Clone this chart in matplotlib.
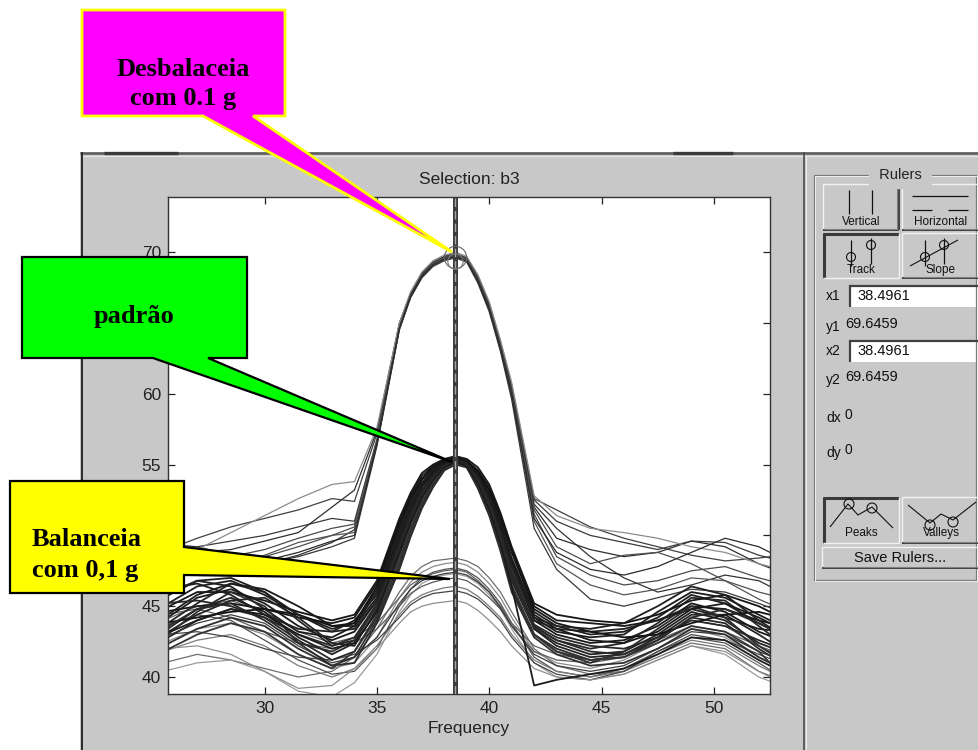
import matplotlib
matplotlib.use("Agg")
import matplotlib.pyplot as plt
from matplotlib.patches import Polygon, Rectangle, Circle

plt.rcParams["font.family"] = ["Liberation Sans", "DejaVu Sans"]

# spectra sampled on a common frequency grid (denser around the peak)
freq = [25.5, 27, 28.5, 30, 31.5, 33, 34, 35, 36, 36.5, 37, 37.5, 38, 38.5,
        39, 39.5, 40, 40.5, 41, 42, 43, 44.5, 46, 47.5, 49, 50.5, 52, 53]

# unbalanced rotor (tall peak near 70)
desbal = [
    [49.0, 49.2, 49.6, 50.0, 50.6, 51.2, 51.0, 56.8, 64.8, 67.0, 68.4, 69.2, 69.6, 69.8, 69.5, 68.1, 66.1, 63.4, 60.2, 52.5, 51.0, 50.0, 49.5, 49.0, 49.6, 49.5, 48.6, 48.2],
    [48.6, 48.8, 49.0, 49.6, 50.2, 52.0, 53.2, 57.4, 65.0, 67.1, 68.5, 69.3, 69.7, 69.9, 69.6, 68.3, 66.3, 63.6, 60.5, 52.0, 49.8, 49.0, 48.5, 48.8, 49.6, 49.2, 48.0, 47.4],
    [47.8, 48.0, 48.5, 49.0, 49.8, 50.5, 50.8, 56.6, 64.6, 66.9, 68.3, 69.1, 69.5, 69.7, 69.4, 68.0, 66.0, 63.2, 60.0, 51.5, 48.5, 47.2, 46.5, 46.8, 47.5, 47.8, 47.0, 46.6],
    [49.4, 49.2, 48.6, 48.0, 48.6, 49.5, 50.4, 56.5, 64.7, 67.0, 68.4, 69.2, 69.6, 69.8, 69.5, 68.2, 66.2, 63.5, 60.3, 52.2, 50.5, 48.5, 47.0, 46.0, 46.5, 47.2, 46.8, 46.0],
    [48.2, 47.6, 47.8, 48.6, 49.5, 50.0, 50.2, 56.4, 64.6, 66.8, 68.2, 69.1, 69.5, 69.7, 69.4, 67.9, 65.9, 63.1, 59.8, 51.0, 48.0, 46.5, 45.8, 46.2, 47.0, 46.8, 45.5, 44.8],
    [48.9, 49.8, 50.6, 51.2, 51.8, 52.6, 52.4, 57.2, 64.9, 67.1, 68.5, 69.3, 69.7, 69.9, 69.6, 68.3, 66.4, 63.7, 60.6, 52.6, 51.8, 50.6, 49.8, 49.2, 48.6, 48.2, 48.4, 48.6],
    [48.4, 49.0, 50.2, 51.4, 52.6, 53.6, 53.8, 57.6, 65.0, 67.2, 68.6, 69.4, 69.8, 70.0, 69.7, 68.4, 66.5, 63.8, 60.8, 52.8, 51.4, 50.5, 50.2, 49.8, 49.2, 48.8, 48.0, 47.6],
    [47.5, 47.9, 48.2, 48.0, 48.5, 49.2, 49.8, 56.3, 64.5, 66.8, 68.2, 69.0, 69.4, 69.6, 69.3, 67.8, 65.8, 63.0, 59.6, 50.5, 47.6, 45.5, 45.0, 45.6, 46.2, 46.0, 45.2, 44.6],
    [49.2, 48.6, 48.2, 48.5, 49.2, 50.0, 50.6, 56.7, 64.7, 67.0, 68.3, 69.2, 69.6, 69.8, 69.5, 68.1, 66.0, 63.3, 60.1, 51.8, 49.2, 48.0, 48.6, 48.8, 48.0, 46.8, 46.0, 45.6],
    [47.2, 47.5, 47.8, 48.2, 48.8, 49.6, 50.0, 56.5, 64.6, 66.9, 68.3, 69.1, 69.5, 69.7, 69.4, 68.0, 66.0, 63.2, 60.0, 51.2, 48.8, 47.6, 47.2, 47.8, 48.8, 49.8, 49.2, 48.4],
]

# reference condition (peak near 55)
padrao = [
    [44.0, 45.6, 46.2, 45.2, 43.6, 42.6, 43.2, 45.4, 49.8, 51.8, 53.4, 54.4, 55.0, 55.3, 55.1, 54.1, 52.6, 50.4, 47.8, 44.0, 43.0, 42.4, 42.6, 43.6, 45.2, 44.6, 43.2, 42.6],
    [43.2, 44.8, 45.6, 44.6, 42.8, 41.6, 42.4, 44.6, 48.6, 50.8, 52.6, 53.9, 54.8, 55.2, 55.0, 53.7, 52.0, 49.6, 46.8, 43.4, 42.4, 41.6, 41.8, 43.0, 44.6, 44.0, 42.4, 41.8],
    [45.0, 46.4, 46.8, 45.8, 44.4, 43.4, 43.8, 46.2, 50.6, 52.4, 53.9, 54.7, 55.2, 55.4, 55.2, 54.4, 53.0, 50.9, 48.4, 44.6, 43.6, 43.0, 43.2, 44.2, 45.8, 45.2, 43.8, 43.0],
    [42.6, 44.0, 44.8, 44.2, 42.6, 41.2, 41.8, 44.2, 48.0, 50.3, 52.2, 53.6, 54.7, 55.1, 54.9, 53.5, 51.6, 49.1, 46.2, 43.0, 42.0, 41.2, 41.4, 42.6, 44.2, 43.8, 42.0, 41.0],
    [44.6, 45.0, 45.2, 44.8, 44.2, 43.8, 44.2, 46.6, 51.0, 52.8, 54.2, 54.9, 55.3, 55.5, 55.3, 54.6, 53.4, 51.4, 49.0, 45.0, 44.0, 43.8, 43.6, 44.0, 45.0, 44.8, 44.0, 43.6],
    [43.6, 45.2, 46.6, 46.0, 44.0, 42.2, 42.6, 45.0, 49.2, 51.3, 53.0, 54.1, 54.9, 55.3, 55.0, 53.9, 52.3, 50.0, 47.4, 43.6, 42.6, 42.0, 42.4, 43.8, 45.6, 45.4, 43.6, 42.4],
    [45.6, 46.8, 46.4, 44.8, 43.2, 42.8, 43.6, 46.0, 50.4, 52.2, 53.7, 54.6, 55.1, 55.4, 55.2, 54.3, 52.8, 50.7, 48.2, 44.2, 43.2, 42.8, 43.0, 44.6, 46.0, 45.6, 44.4, 43.6],
    [42.2, 43.4, 44.2, 43.6, 42.0, 40.8, 41.4, 44.0, 47.7, 50.0, 52.0, 53.5, 54.6, 55.0, 54.8, 53.3, 51.4, 48.9, 46.0, 42.8, 41.6, 40.8, 41.0, 42.0, 43.4, 43.0, 41.4, 40.6],
    [44.8, 46.0, 46.0, 45.4, 44.6, 44.0, 44.4, 46.8, 51.2, 53.0, 54.4, 55.0, 55.4, 55.6, 55.4, 54.8, 53.6, 51.6, 49.2, 45.2, 44.4, 44.0, 43.8, 44.4, 45.4, 45.8, 45.0, 44.2],
    [43.0, 44.4, 45.4, 45.6, 44.2, 42.4, 42.2, 44.8, 49.0, 51.1, 52.8, 54.0, 54.9, 55.2, 55.0, 53.8, 52.2, 49.9, 47.2, 43.4, 42.2, 41.4, 41.6, 42.8, 44.4, 44.4, 43.0, 42.0],
    [46.2, 46.6, 45.8, 44.4, 43.4, 43.2, 44.0, 45.8, 50.2, 52.1, 53.6, 54.5, 55.1, 55.4, 55.1, 54.2, 52.7, 50.5, 48.0, 44.0, 43.4, 43.2, 43.4, 44.0, 44.8, 44.2, 43.4, 43.2],
    [42.8, 44.6, 46.0, 45.0, 42.4, 40.8, 41.0, 43.8, 47.6, 49.9, 51.9, 53.4, 54.6, 55.1, 54.9, 53.4, 51.5, 49.1, 46.4, 43.0, 41.8, 41.0, 41.8, 43.4, 45.0, 44.2, 42.2, 41.2],
    [44.2, 45.8, 46.6, 46.2, 45.0, 43.6, 43.6, 45.6, 50.0, 51.9, 53.5, 54.5, 55.1, 55.4, 55.1, 54.3, 52.9, 50.8, 48.3, 44.4, 43.4, 42.6, 42.4, 43.2, 44.8, 45.2, 44.2, 43.4],
    [45.2, 45.4, 45.0, 44.2, 43.0, 42.2, 42.8, 45.2, 49.4, 51.4, 53.1, 54.2, 55.0, 55.3, 55.0, 54.0, 52.4, 50.1, 47.5, 43.7, 42.8, 42.2, 42.0, 42.8, 44.0, 43.6, 42.6, 42.0],
    [43.8, 44.2, 44.6, 44.8, 44.4, 43.6, 43.8, 46.4, 50.8, 52.6, 54.0, 54.8, 55.2, 55.4, 55.2, 54.5, 53.2, 51.2, 48.8, 44.8, 43.8, 43.2, 42.8, 43.0, 43.8, 44.4, 44.6, 44.2],
    [41.8, 43.0, 43.8, 43.2, 41.6, 40.6, 41.8, 44.4, 48.3, 50.5, 52.4, 53.7, 54.7, 55.1, 54.8, 53.5, 51.7, 49.3, 46.5, 43.0, 41.8, 41.2, 41.4, 42.4, 43.6, 43.2, 41.8, 40.2],
    [45.8, 46.8, 47.0, 46.0, 44.4, 43.2, 43.4, 45.4, 49.6, 51.6, 53.2, 54.3, 55.0, 55.4, 55.1, 54.1, 52.6, 50.4, 47.9, 44.2, 43.6, 43.4, 43.8, 45.0, 46.4, 45.8, 44.0, 43.0],
    [43.4, 44.8, 45.2, 44.0, 42.4, 41.8, 42.6, 45.0, 49.0, 51.1, 52.9, 54.0, 54.9, 55.2, 55.0, 53.8, 52.1, 49.8, 47.0, 43.5, 42.6, 41.8, 41.6, 42.6, 44.2, 44.8, 43.8, 43.0],
    [43.0, 44.0, 44.8, 44.4, 43.0, 42.0, 42.4, 44.6, 48.8, 50.9, 52.7, 53.9, 54.8, 55.2, 54.9, 53.6, 51.8, 49.4, 46.4, 39.4, 39.8, 40.2, 40.6, 41.6, 42.8, 42.6, 41.2, 40.4],
]

# balanced with 0.1 g (low peak)
balanc = [
    [41.0, 41.6, 41.2, 40.6, 40.0, 40.4, 41.4, 43.4, 46.0, 47.1, 47.8, 48.2, 48.3, 48.4, 48.2, 47.8, 47.0, 46.0, 44.6, 42.0, 40.8, 40.2, 40.4, 41.4, 42.4, 42.0, 40.4, 39.8],
    [42.4, 43.4, 43.8, 43.0, 41.6, 40.6, 41.0, 42.8, 45.6, 46.7, 47.4, 47.8, 48.0, 48.1, 47.9, 47.4, 46.6, 45.6, 44.2, 41.8, 41.0, 40.6, 41.2, 42.4, 43.4, 42.8, 41.4, 40.6],
    [43.6, 44.4, 44.0, 42.6, 41.2, 40.2, 40.4, 42.0, 45.0, 46.2, 47.0, 47.4, 47.6, 47.7, 47.5, 47.0, 46.2, 45.2, 43.8, 41.4, 40.4, 40.0, 40.6, 41.8, 42.8, 42.4, 41.0, 40.0],
    [40.4, 41.0, 41.2, 40.4, 39.0, 38.6, 39.6, 41.6, 44.6, 45.8, 46.6, 47.0, 47.2, 47.3, 47.1, 46.6, 45.8, 44.8, 43.4, 41.0, 40.0, 39.8, 40.2, 41.2, 42.2, 41.6, 40.0, 39.4],
    [44.4, 44.8, 44.2, 43.2, 42.4, 42.0, 42.4, 43.4, 45.0, 45.9, 46.4, 46.7, 46.9, 47.0, 46.8, 46.3, 45.6, 44.8, 43.6, 41.8, 41.2, 41.0, 41.4, 42.6, 43.6, 43.2, 42.2, 41.6],
    [41.8, 42.6, 43.0, 42.2, 40.8, 40.0, 40.6, 42.2, 44.4, 45.3, 45.8, 46.1, 46.3, 46.4, 46.2, 45.7, 45.0, 44.2, 43.0, 41.2, 40.4, 40.0, 40.4, 41.6, 42.6, 42.2, 40.8, 40.0],
    [43.0, 43.2, 42.8, 42.0, 41.4, 41.2, 41.6, 42.6, 44.2, 45.1, 45.6, 45.9, 46.0, 46.1, 45.9, 45.5, 44.8, 44.0, 42.8, 41.0, 40.2, 39.8, 40.4, 41.8, 43.0, 42.6, 41.6, 41.0],
    [42.0, 42.2, 41.6, 40.4, 39.2, 39.4, 40.6, 42.0, 43.8, 44.6, 45.0, 45.2, 45.3, 45.4, 45.2, 44.7, 44.0, 43.2, 42.2, 40.6, 40.0, 39.8, 40.2, 41.2, 42.2, 41.8, 40.4, 39.6],
    [44.0, 45.0, 45.4, 44.6, 43.2, 42.4, 42.8, 43.8, 45.6, 46.5, 47.0, 47.3, 47.5, 47.6, 47.4, 46.8, 46.0, 45.0, 43.8, 42.2, 41.6, 41.2, 41.6, 42.8, 44.0, 43.6, 42.2, 41.4],
    [42.8, 43.8, 44.4, 43.8, 42.2, 41.0, 41.4, 42.8, 45.2, 46.2, 46.8, 47.1, 47.3, 47.4, 47.2, 46.7, 46.0, 44.9, 43.6, 41.6, 40.8, 40.4, 40.8, 42.0, 43.2, 43.0, 41.8, 41.2],
]

desbal_colors = ["#3a3a3a", "#2e2e2e", "#4a4a4a", "#333333", "#555555",
                 "#404040", "#8c8c8c", "#383838", "#4f4f4f", "#2a2a2a"]
padrao_colors = ["#1a1a1a", "#222222", "#1e1e1e", "#2a2a2a", "#181818",
                 "#262626", "#1c1c1c", "#303030", "#161616", "#242424",
                 "#1f1f1f", "#2c2c2c", "#1a1a1a", "#282828", "#141414",
                 "#343434", "#202020", "#2a2a2a", "#1c1c1c"]
balanc_colors = ["#6e6e6e", "#8a8a8a", "#505050", "#9a9a9a", "#5a5a5a",
                 "#7a7a7a", "#454545", "#8f8f8f", "#606060", "#3c3c3c"]

# ruler readout
ruler_x = 38.4961
ruler_y = 69.6459

xticks = [30, 35, 40, 45, 50]
yticks = [40, 45, 50, 55, 60, 65, 70]
# 50 and 65 sit under the callout boxes
ytick_labels = ["40", "45", "", "55", "60", "", "70"]

W, H = 979, 750
PANEL = "#c8c8c8"

fig = plt.figure(figsize=(W / 100, H / 100), dpi=100)
fig.patch.set_facecolor("white")

# background layer in pixel coordinates (y grows downwards)
bg = fig.add_axes([0, 0, 1, 1], zorder=0)
bg.set_xlim(0, W)
bg.set_ylim(H, 0)
bg.axis("off")

# spectra axes
ax = fig.add_axes([168 / W, 1 - 694 / H, 602 / W, 497 / H], zorder=2)

# callouts on top of everything
fg = fig.add_axes([0, 0, 1, 1], zorder=5)
fg.set_xlim(0, W)
fg.set_ylim(H, 0)
fg.axis("off")


def seg(a, xs, ys, color, lw=0.72, z=2):
    a.plot(xs, ys, color=color, lw=lw, solid_capstyle="butt", zorder=z)


def button(a, x0, y0, x1, y1, pressed=False):
    a.add_patch(Rectangle((x0, y0), x1 - x0, y1 - y0, fc=PANEL, ec="none", zorder=1))
    if pressed:
        seg(a, [x0, x1], [y0 + 1, y0 + 1], "#3a3a3a", 2.2)
        seg(a, [x0 + 1, x0 + 1], [y0, y1], "#3a3a3a", 2.2)
        seg(a, [x0, x1], [y1, y1], "#f2f2f2", 1)
        seg(a, [x1, x1], [y0, y1], "#f2f2f2", 1)
    else:
        seg(a, [x0, x1], [y0, y0], "#f2f2f2", 1)
        seg(a, [x0, x0], [y0, y1], "#f2f2f2", 1)
        seg(a, [x0, x1], [y1, y1], "#2a2a2a", 1.2)
        seg(a, [x1, x1], [y0, y1], "#2a2a2a", 1.2)
        seg(a, [x0 + 1, x1 - 1], [y1 - 1.5, y1 - 1.5], "#808080", 0.8)
        seg(a, [x1 - 1.5, x1 - 1.5], [y0 + 1, y1 - 1], "#808080", 0.8)


def ring(a, x, y, r):
    a.add_patch(Circle((x, y), r, fc="none", ec="#111111", lw=0.8, zorder=3))


# window panel
bg.add_patch(Rectangle((80, 152), W - 80, H - 152, fc=PANEL, ec="none", zorder=0))
seg(bg, [80, W], [153, 153], "#5a5a5a", 1.8)
seg(bg, [104, 178], [153, 153], "#3a3a3a", 2.4)
seg(bg, [673, 733], [153, 153], "#3a3a3a", 2.4)
seg(bg, [80, W], [156, 156], "#e6e6e6", 0.8)
seg(bg, [82, 82], [152, H], "#2a2a2a", 1.4)
seg(bg, [804, 804], [152, H], "#4a4a4a", 1.2)
seg(bg, [806.5, 806.5], [156, H], "#eeeeee", 0.8)

# rulers group box
seg(bg, [814, 976, 976, 814, 814], [175, 175, 580, 580, 175], "#7a7a7a", 0.9)
seg(bg, [815, 977, 977, 815, 815], [176, 176, 581, 581, 176], "#f0f0f0", 0.7)
bg.text(900, 175, " Rulers ", ha="center", va="center", fontsize=10.5,
        color="#222222", backgroundcolor=PANEL, zorder=3)

# Vertical / Horizontal
button(bg, 823, 184, 899, 230)
button(bg, 902, 184, 982, 230)
seg(bg, [849, 849], [190, 214], "#111111", 0.9, 3)
seg(bg, [872, 872], [190, 214], "#111111", 0.9, 3)
seg(bg, [912, 968], [196, 196], "#111111", 0.9, 3)
seg(bg, [912, 932], [210, 210], "#111111", 0.9, 3)
seg(bg, [948, 968], [210, 210], "#111111", 0.9, 3)
bg.text(861, 222, "Vertical", ha="center", va="center", fontsize=8.5, color="#111111", zorder=3)
bg.text(941, 222, "Horizontal", ha="center", va="center", fontsize=8.5, color="#111111", zorder=3)

# Track / Slope
button(bg, 823, 233, 899, 278, pressed=True)
button(bg, 902, 233, 982, 278)
seg(bg, [851, 851], [240, 266], "#111111", 0.9, 3)
ring(bg, 851, 257, 4.5)
seg(bg, [871, 871], [238, 264], "#111111", 0.9, 3)
ring(bg, 871, 245, 4.5)
seg(bg, [925, 925], [240, 266], "#111111", 0.9, 3)
ring(bg, 925, 257, 4.5)
seg(bg, [944, 944], [238, 264], "#111111", 0.9, 3)
ring(bg, 944, 245, 4.5)
seg(bg, [910, 958], [266, 240], "#111111", 0.8, 3)
bg.text(861, 270, "Track", ha="center", va="center", fontsize=8.5, color="#111111", zorder=3)
bg.text(941, 270, "Slope", ha="center", va="center", fontsize=8.5, color="#111111", zorder=3)

# readouts
for lab, val, y, boxed in [("x1", ruler_x, 296, True), ("y1", ruler_y, 325, False),
                           ("x2", ruler_x, 351, True), ("y2", ruler_y, 378, False)]:
    bg.text(826, y + (0 if boxed else 2), lab, ha="left", va="center",
            fontsize=10, color="#111111", zorder=3)
    if boxed:
        bg.add_patch(Rectangle((849, y - 11), 132, 22, fc="white", ec="none", zorder=1))
        seg(bg, [849, 981], [y - 10.5, y - 10.5], "#404040", 1.6)
        seg(bg, [850, 850], [y - 11, y + 11], "#404040", 1.6)
        bg.text(857, y, f"{val:.4f}", ha="left", va="center", fontsize=10.5,
                color="#111111", zorder=3)
    else:
        bg.text(845, y - 1, f"{val:.4f}", ha="left", va="center", fontsize=10.5,
                color="#111111", zorder=3)

bg.text(826, 418, "dx", ha="left", va="center", fontsize=10, color="#111111", zorder=3)
bg.text(845, 415, f"{ruler_x - ruler_x:g}", ha="left", va="center", fontsize=10,
        color="#111111", zorder=3)
bg.text(826, 453, "dy", ha="left", va="center", fontsize=10, color="#111111", zorder=3)
bg.text(845, 450, f"{ruler_y - ruler_y:g}", ha="left", va="center", fontsize=10,
        color="#111111", zorder=3)

# Peaks / Valleys
button(bg, 823, 497, 899, 543, pressed=True)
button(bg, 902, 497, 982, 543)
seg(bg, [830, 848, 858, 872, 893], [527, 504, 515, 507, 528], "#111111", 0.8, 3)
ring(bg, 849, 504, 5)
ring(bg, 872, 508, 5)
seg(bg, [908, 930, 941, 953, 976], [505, 523, 514, 520, 502], "#111111", 0.8, 3)
ring(bg, 930, 525, 5)
ring(bg, 953, 522, 5)
bg.text(861, 533, "Peaks", ha="center", va="center", fontsize=8.5, color="#111111", zorder=3)
bg.text(941, 533, "Valleys", ha="center", va="center", fontsize=8.5, color="#111111", zorder=3)

button(bg, 822, 547, 982, 568)
bg.text(900, 558, "Save Rulers...", ha="center", va="center", fontsize=10.5,
        color="#111111", zorder=3)

# spectra
for ys, c in zip(desbal, desbal_colors):
    ax.plot(freq, ys, color=c, lw=0.9)
for ys, c in zip(balanc, balanc_colors):
    ax.plot(freq, ys, color=c, lw=0.9)
for ys, c in zip(padrao, padrao_colors):
    ax.plot(freq, ys, color=c, lw=1.3)

# track ruler
ax.axvline(ruler_x, color="#3c3c3c", lw=3.6, zorder=4)
ax.axvline(ruler_x, color="#a8a8a8", lw=1.0, dashes=(6, 3), zorder=5)
ax.plot([ruler_x], [ruler_y], "o", ms=16, mfc="none", mec="#666666", mew=0.8, zorder=6)
ax.plot([ruler_x], [ruler_y - 0.3], "o", ms=11, mfc="none", mec="#777777", mew=0.8, zorder=6)

ax.set_xlim(25.7, 52.5)
ax.set_ylim(38.8, 73.9)
ax.set_xticks(xticks)
ax.set_yticks(yticks)
ax.set_yticklabels(ytick_labels)
ax.tick_params(direction="in", length=5, width=0.9, top=True, right=True,
               labelsize=12.5, colors="#222222", pad=5)
for sp in ax.spines.values():
    sp.set_color("#333333")
    sp.set_linewidth(1.0)
ax.set_title("Selection: b3", fontsize=12.5, color="#222222", pad=9)
ax.set_xlabel("Frequency", fontsize=12.5, color="#222222", labelpad=4)

# callouts
callouts = [
    ("#ff00ff", "#ffff00", 2.0,
     [(82, 10), (285, 10), (285, 116), (253, 116), (452, 252), (203, 116), (82, 116)]),
    ("#00ff00", "#000000", 1.6,
     [(22, 257), (247, 257), (247, 358), (208, 358), (452, 462), (153, 358), (22, 358)]),
    ("#ffff00", "#000000", 1.6,
     [(10, 481), (184, 481), (184, 547), (450, 579), (184, 575), (184, 593), (10, 593)]),
]
for face, edge, lw, pts in callouts:
    fg.add_patch(Polygon(pts, closed=True, fc=face, ec=edge, lw=lw, joinstyle="miter", zorder=1))

serif = dict(family="Liberation Serif", weight="bold", fontsize=19, color="black", zorder=2)
fg.text(183, 69, "Desbalaceia", ha="center", va="center", **serif)
fg.text(183, 98, "com 0.1 g", ha="center", va="center", **serif)
fg.text(134, 317, "padrão", ha="center", va="center", **serif)
fg.text(32, 540, "Balanceia", ha="left", va="center", **serif)
fg.text(32, 571, "com 0,1 g", ha="left", va="center", **serif)

fig.savefig("out.png", dpi=100)
